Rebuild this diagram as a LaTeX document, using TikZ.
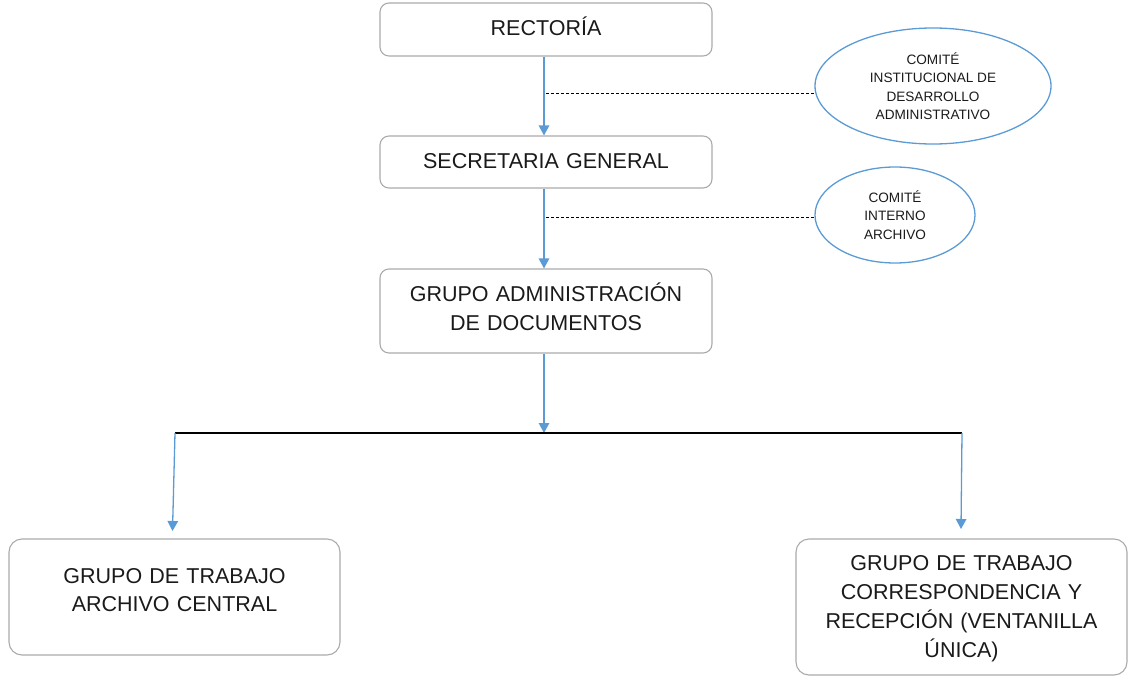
\documentclass[tikz,border=0pt]{standalone}
\usepackage{fontspec}
\setmainfont{Liberation Sans}
\usetikzlibrary{arrows.meta,shapes.geometric}
\definecolor{lineblue}{HTML}{5B9BD5}
\definecolor{boxgray}{HTML}{ABABAB}
\definecolor{txt}{HTML}{1A1A1A}
\tikzset{
  orgbox/.style={draw=boxgray, line width=1.1pt, rounded corners=9pt, inner sep=0pt},
  boxtext/.style={inner sep=0pt, align=center, text=txt, text width=320pt,
     font=\fontsize{21.5}{29}\selectfont},
  combox/.style={ellipse, draw=lineblue, line width=1.3pt, inner sep=0pt,
     align=center, text=txt, font=\fontsize{13.6}{18.5}\selectfont},
  arr/.style={draw=lineblue, line width=1.3pt, -{Triangle[width=10.5pt,length=10pt]}},
  dashline/.style={draw=black, line width=0.9pt, dash pattern=on 3pt off 2pt},
  branch/.style={draw=black, line width=1.5pt}
}
\begin{document}
\begin{tikzpicture}[x=1pt,y=-1pt]
\useasboundingbox (0,0) rectangle (1130,677);
% boxes
\node[orgbox, minimum width=332pt, minimum height=53pt] (rect) at (546,29.5) {};
\node[boxtext] (rectT) at ([yshift=3.5pt]rect.center) {RECTORÍA};
\node[orgbox, minimum width=332pt, minimum height=52pt] (sec) at (546,162) {};
\node[boxtext] (secT) at ([yshift=1pt]sec.center) {SECRETARIA GENERAL};
\node[orgbox, minimum width=332pt, minimum height=84pt] (adm) at (546,311) {};
\node[boxtext] (admT) at ([yshift=4.5pt]adm.center) {GRUPO ADMINISTRACIÓN\\DE DOCUMENTOS};
\node[orgbox, rounded corners=13pt, minimum width=331pt, minimum height=116pt] (arch) at (174.5,597) {};
\node[boxtext, font=\fontsize{21.5}{28}\selectfont] (archT) at ([yshift=6.5pt]arch.center) {GRUPO DE TRABAJO\\ARCHIVO CENTRAL};
\node[orgbox, rounded corners=13pt, minimum width=331pt, minimum height=136pt] (corr) at (961.5,607) {};
\node[boxtext] (corrT) at ([yshift=-1.5pt]corr.center) {GRUPO DE TRABAJO\\CORRESPONDENCIA Y\\RECEPCIÓN (VENTANILLA\\ÚNICA)};
% committees
\node[combox, minimum width=236pt, minimum height=116pt] (c1) at (933,86) {COMITÉ\\INSTITUCIONAL DE\\DESARROLLO\\ADMINISTRATIVO};
\node[combox, minimum width=160pt, minimum height=96pt] (c2) at (895,215) {COMITÉ\\INTERNO\\ARCHIVO};
% connectors
\draw[arr] (rect.south -| 544,0) -- (sec.north -| 544,0);
\draw[arr] (sec.south -| 544,0) -- (adm.north -| 544,0);
\coordinate (d1) at (546,93);
\coordinate (d2) at (546,217);
\draw[dashline] (d1) -- (d1 -| c1.west);
\draw[dashline] (d2) -- (d2 -| c2.west);
\coordinate (j) at (544,433);
\coordinate (jl) at (175,433);
\coordinate (jr) at (962,433);
\coordinate (al) at (172.5,531);
\coordinate (ar) at (961,529);
\draw[arr] (adm.south -| 544,0) -- (j);
\draw[branch] (jl) -- (jr);
\draw[arr] (jl) -- (al);
\draw[arr] (jr) -- (ar);
\end{tikzpicture}
\end{document}
